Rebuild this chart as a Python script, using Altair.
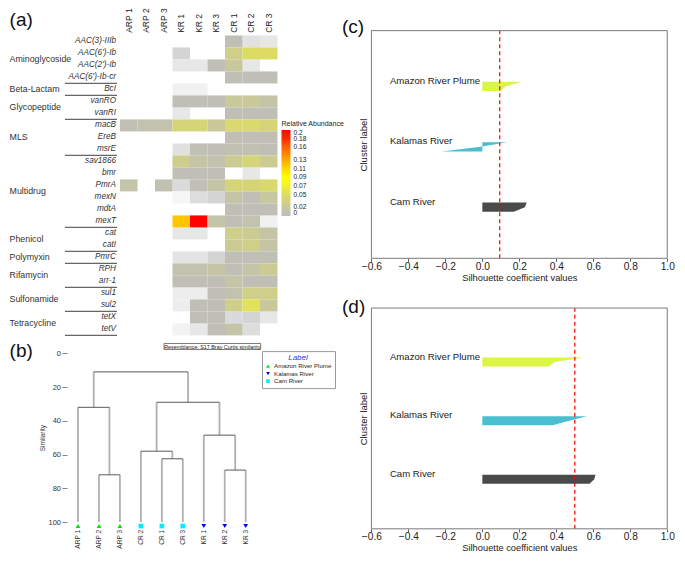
import altair as alt
import pandas as pd

W, H = 669, 547
FONT = "Liberation Sans"


def Xp(p):
    if p <= 40:
        return 8 + p * 0.8
    if p <= 360:
        return p
    return 360 + (p - 360) * (317 / 325)


def Yp(p):
    if p <= 40:
        return 8 + p * 0.8
    if p <= 300:
        return p
    return 300 + (p - 300) * (255 / 263)


def X(p):
    return round(Xp(p) - 8, 2)


def Y(p):
    return round(Yp(p) - 8, 2)


# ---------------- (a) heatmap data ----------------
samples = ["ARP 1", "ARP 2", "ARP 3", "KR 1", "KR 2", "KR 3", "CR 1", "CR 2", "CR 3"]
genes = ["AAC(3)-IIIb", "AAC(6')-Ib", "AAC(2')-Ib", "AAC(6')-Ib-cr", "BcI", "vanRO", "vanRI",
         "macB", "EreB", "msrE", "sav1866", "bmr", "PmrA", "mexN", "mdtA", "mexT", "cat", "catI",
         "PmrC", "RPH", "arr-1", "sul1", "sul2", "tetX", "tetV"]
classes = ["Aminoglycoside", "Beta-Lactam", "Glycopeptide", "MLS", "Multidrug", "Phenicol",
           "Polymyxin", "Rifamycin", "Sulfonamide", "Tetracycline"]
class_sizes = [4, 1, 2, 3, 6, 2, 1, 2, 2, 2]

ARP_1 = [0, 0, 0, 0, 0, 0, 0, .008, 0, 0, 0, 0, .014, 0, 0, 0, 0, 0, 0, 0, 0, 0, 0, 0, 0]
ARP_2 = [0, 0, 0, 0, 0, 0, 0, .012, 0, 0, 0, 0, 0, 0, 0, 0, 0, 0, 0, 0, 0, 0, 0, 0, 0]
ARP_3 = [0, 0, 0, 0, 0, 0, 0, .012, 0, 0, 0, 0, .010, 0, 0, 0, 0, 0, 0, 0, 0, 0, 0, 0, 0]
KR_1 = [0, .0035, .002, 0, .0012, .006, .002, .040, 0, .0025, .028, .006, .003, .0008, 0, .118,
        .002, 0, .0022, .012, .006, .0015, .0015, 0, .001]
KR_2 = [0, 0, .002, 0, .0012, .006, 0, .040, 0, .007, .016, .006, .006, .0028, 0, .200,
        .002, 0, .0022, .012, .006, .0015, .006, .006, .002]
KR_3 = [0, 0, .006, 0, 0, .006, 0, .022, 0, .006, .012, .006, .014, .0035, 0, .014,
        0, 0, .0035, .016, .006, .006, .006, .006, .006]
CR_1 = [.006, .030, .020, .006, 0, .022, .006, .045, .006, .010, .025, 0, .040, .016, .006, .006,
        .030, .025, .006, .006, .016, .012, .030, .003, .014]
CR_2 = [.0025, .050, .002, .006, 0, .022, .006, .045, .005, .010, .040, .002, .040, .006, .006, .012,
        .025, .030, .006, .014, .006, .030, .055, .0035, .0028]
CR_3 = [.002, .050, 0, .006, 0, .014, .006, .040, .006, .006, .025, 0, .045, .018, .006, .0012,
        .016, .016, .006, .025, .006, .030, .020, .002, 0]
columns = [ARP_1, ARP_2, ARP_3, KR_1, KR_2, KR_3, CR_1, CR_2, CR_3]

ab_stops = [0, 0.01, 0.02, 0.05, 0.07, 0.09, 0.11, 0.13, 0.16, 0.18, 0.2]
ab_colors = ["#bdbdbd", "#c1c1b2", "#c8c89c", "#dcdc62", "#f2f22a", "#ffff00", "#ffd800",
             "#ffa800", "#ff6000", "#ff2800", "#ff0000"]
ab_ticks = [0, 0.02, 0.05, 0.07, 0.09, 0.11, 0.13, 0.16, 0.18, 0.2]

# ---------------- (b) dendrogram data ----------------
leaf_order = ["ARP 1", "ARP 2", "ARP 3", "CR 2", "CR 1", "CR 3", "KR 1", "KR 2", "KR 3"]
leaf_group = ["Amazon River Plume"] * 3 + ["Cam River"] * 3 + ["Kalamas River"] * 3
merge_left = ["ARP 2", "ARP 1", "CR 1", "CR 2", "KR 2", "KR 1", "n3", "n1"]
merge_right = ["ARP 3", "n0", "CR 3", "n2", "KR 3", "n4", "n5", "n6"]
merge_height = [72.0, 32.0, 62.5, 58.0, 69.2, 48.5, 29.0, 11.0]
sim_ticks = [0, 20, 40, 60, 80, 100]
group_names = ["Amazon River Plume", "Kalamas River", "Cam River"]
group_colors = ["#00dd00", "#0000ee", "#00eeff"]
group_shapes = ["triangle-up", "triangle-down", "square"]

# ---------------- (c), (d) silhouette data ----------------
sil_clusters = ["Cam River", "Kalamas River", "Amazon River Plume"]
sil_colors = ["#4a4a4a", "#4bbfcf", "#dbf545"]
sil_c_cam = [0.17, 0.23, 0.24]
sil_c_kal = [-0.22, -0.01, 0.135]
sil_c_arp = [0.10, 0.125, 0.215]
sil_c_avg = [0.094]
sil_d_cam = [0.58, 0.605, 0.612]
sil_d_kal = [0.38, 0.47, 0.565]
sil_d_arp = [0.36, 0.39, 0.55]
sil_d_avg = [0.50]
sil_xlim = [-0.6, 1.0]
sil_ticks = [-0.6, -0.4, -0.2, 0.0, 0.2, 0.4, 0.6, 0.8, 1.0]
sil_label_x = -0.5
sil_ylim = [0, 9 + 4 * 10]

layers = []

# ====== (a) heatmap ======
hx = alt.Scale(domain=[0, 9], range=[X(120), X(277.5)], nice=False, zero=False)
hy = alt.Scale(domain=[0, 25], range=[Y(34.3), Y(336.5)], nice=False, zero=False)

cell_rows = []
for i, vals in enumerate(columns):
    for j, v in enumerate(vals):
        if v > 0:
            cell_rows.append(dict(sample=samples[i], gene=genes[j], c0=i, c1=i + 1, r0=j, r1=j + 1, v=v))
cells = pd.DataFrame(cell_rows)

layers.append(
    alt.Chart(cells).transform_filter("datum.v < 0.004").mark_rect().encode(
        x=alt.X("c0:Q", scale=hx, axis=None), x2="c1:Q",
        y=alt.Y("r0:Q", scale=hy, axis=None), y2="r1:Q",
        color=alt.Color("v:Q", scale=alt.Scale(domain=[0.0008, 0.004], range=["#f6f6f6", "#cecece"]),
                        legend=None)))

layers.append(
    alt.Chart(cells).transform_filter("datum.v >= 0.004").mark_rect().encode(
        x=alt.X("c0:Q", scale=hx, axis=None), x2="c1:Q",
        y=alt.Y("r0:Q", scale=hy, axis=None), y2="r1:Q",
        color=alt.Color("v:Q", scale=alt.Scale(domain=ab_stops, range=ab_colors),
                        legend=alt.Legend(orient="none", legendX=X(281.5), legendY=Y(120),
                                          direction="vertical", title="Relative Abundance",
                                          titleFontSize=7, titleFontWeight="normal", titleColor="#222",
                                          titlePadding=3, gradientLength=86, gradientThickness=9,
                                          gradientStrokeWidth=0, values=ab_ticks, format=".2~f",
                                          labelFontSize=6.6, labelColor="#222", labelOffset=3,
                                          labelOverlap=False))))

hdr = pd.DataFrame({"s": samples, "xc": [i + 0.5 for i in range(len(samples))]})
layers.append(
    alt.Chart(hdr).mark_text(angle=270, align="left", baseline="middle", fontSize=8.5, color="#222").encode(
        x=alt.X("xc:Q", scale=hx, axis=None), y=alt.value(Y(31)), text="s:N"))

gdf = pd.DataFrame({"g": genes, "yc": [j + 0.5 for j in range(len(genes))]})
layers.append(
    alt.Chart(gdf).mark_text(align="right", baseline="middle", fontSize=8.2, fontStyle="italic",
                             color="#333").encode(
        x=alt.value(X(116)), y=alt.Y("yc:Q", scale=hy, axis=None), text="g:N"))

starts = [sum(class_sizes[:k]) for k in range(len(class_sizes))]
cdf = pd.DataFrame({"c": classes, "yc": [s + n / 2 for s, n in zip(starts, class_sizes)],
                    "yend": [s + n for s, n in zip(starts, class_sizes)]})
layers.append(
    alt.Chart(cdf).mark_text(align="left", baseline="middle", fontSize=8.8, color="#333").encode(
        x=alt.value(X(2)), y=alt.Y("yc:Q", scale=hy, axis=None), text="c:N"))
layers.append(
    alt.Chart(cdf).mark_rule(color="#666", strokeWidth=1.2).encode(
        x=alt.value(X(65)), x2=alt.value(X(117)), y=alt.Y("yend:Q", scale=hy, axis=None)))

# ====== (b) dendrogram ======
dx = alt.Scale(domain=[1, 9], range=[X(78), X(245.7)], nice=False, zero=False)
dy = alt.Scale(domain=[0, 100], range=[Y(355), Y(529)], nice=False, zero=False)

pos = {name: i + 1 for i, name in enumerate(leaf_order)}
hgt = {name: 100.0 for name in leaf_order}
vseg, hseg = [], []
for k, (a, b, h) in enumerate(zip(merge_left, merge_right, merge_height)):
    for ch in (a, b):
        vseg.append(dict(x=pos[ch], y=hgt[ch], y2=h))
    hseg.append(dict(x=pos[a], x2=pos[b], y=h))
    pos[f"n{k}"] = (pos[a] + pos[b]) / 2
    hgt[f"n{k}"] = h

layers.append(
    alt.Chart(pd.DataFrame(vseg)).mark_rule(color="#b0b0b0", strokeWidth=1.8).encode(
        x=alt.X("x:Q", scale=dx, axis=None),
        y=alt.Y("y:Q", scale=dy, axis=alt.Axis(
            orient="left", offset=-X(67), values=sim_ticks, domain=False, grid=False,
            tickSize=5, tickColor="#666", tickWidth=0.8, labelFontSize=7.5, labelColor="#333",
            labelPadding=1.5, title="Similarity", titleFontSize=6.5, titleFontWeight="normal",
            titleColor="#333", titlePadding=2)),
        y2="y2:Q"))
layers.append(
    alt.Chart(pd.DataFrame(hseg)).mark_rule(color="#5a5a5a", strokeWidth=1).encode(
        x=alt.X("x:Q", scale=dx, axis=None), x2="x2:Q",
        y=alt.Y("y:Q", scale=dy, axis=None)))

leaves = pd.DataFrame({"leaf": leaf_order, "group": leaf_group,
                       "x": list(range(1, 10)), "y": [100] * 9})
layers.append(
    alt.Chart(leaves).mark_point(filled=True, size=22, opacity=1, yOffset=4).encode(
        x=alt.X("x:Q", scale=dx, axis=None),
        y=alt.Y("y:Q", scale=dy, axis=None),
        color=alt.Color("group:N", scale=alt.Scale(domain=group_names, range=group_colors),
                        legend=alt.Legend(orient="none", legendX=X(262), legendY=Y(352.7),
                                          title="Label", titleColor="#3030ff", titleFontStyle="italic",
                                          titleFontWeight="normal", titleFontSize=8, titleAnchor="middle",
                                          titlePadding=1, labelFontSize=6.1, labelColor="#222",
                                          symbolSize=14, symbolStrokeWidth=0, strokeColor="#9a9a9a",
                                          fillColor="white", padding=3, rowPadding=0.5, labelOffset=3)),
        shape=alt.Shape("group:N", scale=alt.Scale(domain=group_names, range=group_shapes))))
layers.append(
    alt.Chart(leaves).mark_text(angle=270, align="right", baseline="middle", fontSize=6.6,
                                color="#333").encode(
        x=alt.X("x:Q", scale=dx, axis=None), y=alt.value(Y(537)), text="leaf:N"))

res = pd.DataFrame({"t": ["Resemblance: S17 Bray Curtis similarity"]})
layers.append(alt.Chart(res).mark_rect(fill="white", stroke="#555", strokeWidth=0.8).encode(
    x=alt.value(X(164)), x2=alt.value(X(260.7)), y=alt.value(Y(344.8)), y2=alt.value(Y(351))))
layers.append(alt.Chart(res).mark_text(fontSize=5.4, color="#222", baseline="middle").encode(
    x=alt.value(X(212.3)), y=alt.value(Y(348)), text="t:N"))


# ====== (c), (d) silhouette ======
def sil_layers(cam, kal, arp, avg, y_top, y_bot, title_y):
    sx = alt.Scale(domain=sil_xlim, range=[X(371.7), X(675)], nice=False, zero=False)
    sy = alt.Scale(domain=sil_ylim, range=[Y(y_bot), Y(y_top)], nice=False, zero=False)
    rows, labs = [], []
    y_lower = 10
    for name, vals in zip(sil_clusters, (cam, kal, arp)):
        for k, v in enumerate(sorted(vals)):
            rows.append(dict(cluster=name, pos=y_lower + k, val=v, zero=0.0))
        labs.append(dict(cluster=name, pos=y_lower + 0.5 * len(vals), x=sil_label_x))
        y_lower += len(vals) + 10
    out = []
    out.append(alt.Chart(pd.DataFrame(rows)).mark_area(orient="horizontal", opacity=1).encode(
        y=alt.Y("pos:Q", scale=sy, axis=alt.Axis(
            orient="left", offset=-X(371.7), labels=False, ticks=False, domain=False, grid=False,
            title="Cluster label", titleFontSize=9.5, titleFontWeight="normal", titleColor="#222",
            titlePadding=3)),
        x=alt.X("val:Q", scale=sx, axis=alt.Axis(
            orient="bottom", offset=Y(y_bot) - H, values=sil_ticks, format=".1f",
            labelFontSize=10.2, labelColor="#222", labelPadding=0, labelFlush=False,
            tickSize=3, tickColor="#333", tickWidth=0.8, domain=False, grid=False,
            title="Silhouette coefficient values", titleFontSize=9.3, titleFontWeight="normal",
            titleColor="#222", titleY=title_y, titleBaseline="top")),
        x2="zero:Q",
        color=alt.Color("cluster:N", scale=alt.Scale(domain=sil_clusters, range=sil_colors), legend=None)))
    out.append(alt.Chart(pd.DataFrame(labs)).mark_text(align="left", baseline="alphabetic",
                                                       fontSize=9.6, color="#222").encode(
        x=alt.X("x:Q", scale=sx, axis=None), y=alt.Y("pos:Q", scale=sy, axis=None), text="cluster:N"))
    out.append(alt.Chart(pd.DataFrame({"a": avg, "y0": [sil_ylim[0]], "y1": [sil_ylim[1]]})).mark_rule(
        color="#ff0000", strokeDash=[4, 3], strokeWidth=1.2).encode(
        x=alt.X("a:Q", scale=sx, axis=None), y=alt.Y("y0:Q", scale=sy, axis=None), y2="y1:Q"))
    out.append(alt.Chart(pd.DataFrame({"x0": [sil_xlim[0]], "x1": [sil_xlim[1]],
                                       "y0": [sil_ylim[0]], "y1": [sil_ylim[1]]})).mark_rect(
        fillOpacity=0, stroke="#7a7a7a", strokeWidth=1).encode(
        x=alt.X("x0:Q", scale=sx, axis=None), x2="x1:Q",
        y=alt.Y("y0:Q", scale=sy, axis=None), y2="y1:Q"))
    return out


layers += sil_layers(sil_c_cam, sil_c_kal, sil_c_arp, sil_c_avg, 28.3, 258.3, 15.5)
layers += sil_layers(sil_d_cam, sil_d_kal, sil_d_arp, sil_d_avg, 308.3, 536.0, 15.0)

# ====== panel letters ======
panel_letters = ["(a)", "(b)", "(c)", "(d)"]
letter_pos = [(2, 23), (2, 359), (342, 31), (342, 313)]
for lab, (px, py) in zip(panel_letters, letter_pos):
    layers.append(alt.Chart(pd.DataFrame({"t": [lab]})).mark_text(
        align="left", baseline="alphabetic", fontSize=19, color="#111").encode(
        x=alt.value(X(px)), y=alt.value(Y(py)), text="t:N"))

chart = alt.layer(*layers).resolve_scale(
    x="independent", y="independent", color="independent", shape="independent"
).properties(
    width=W, height=H, padding=0,
    autosize=alt.AutoSizeParams(type="none", contains="padding"),
).configure(font=FONT).configure_view(stroke=None)

chart.save("out.html", embed_options={"renderer": "svg", "actions": False})
